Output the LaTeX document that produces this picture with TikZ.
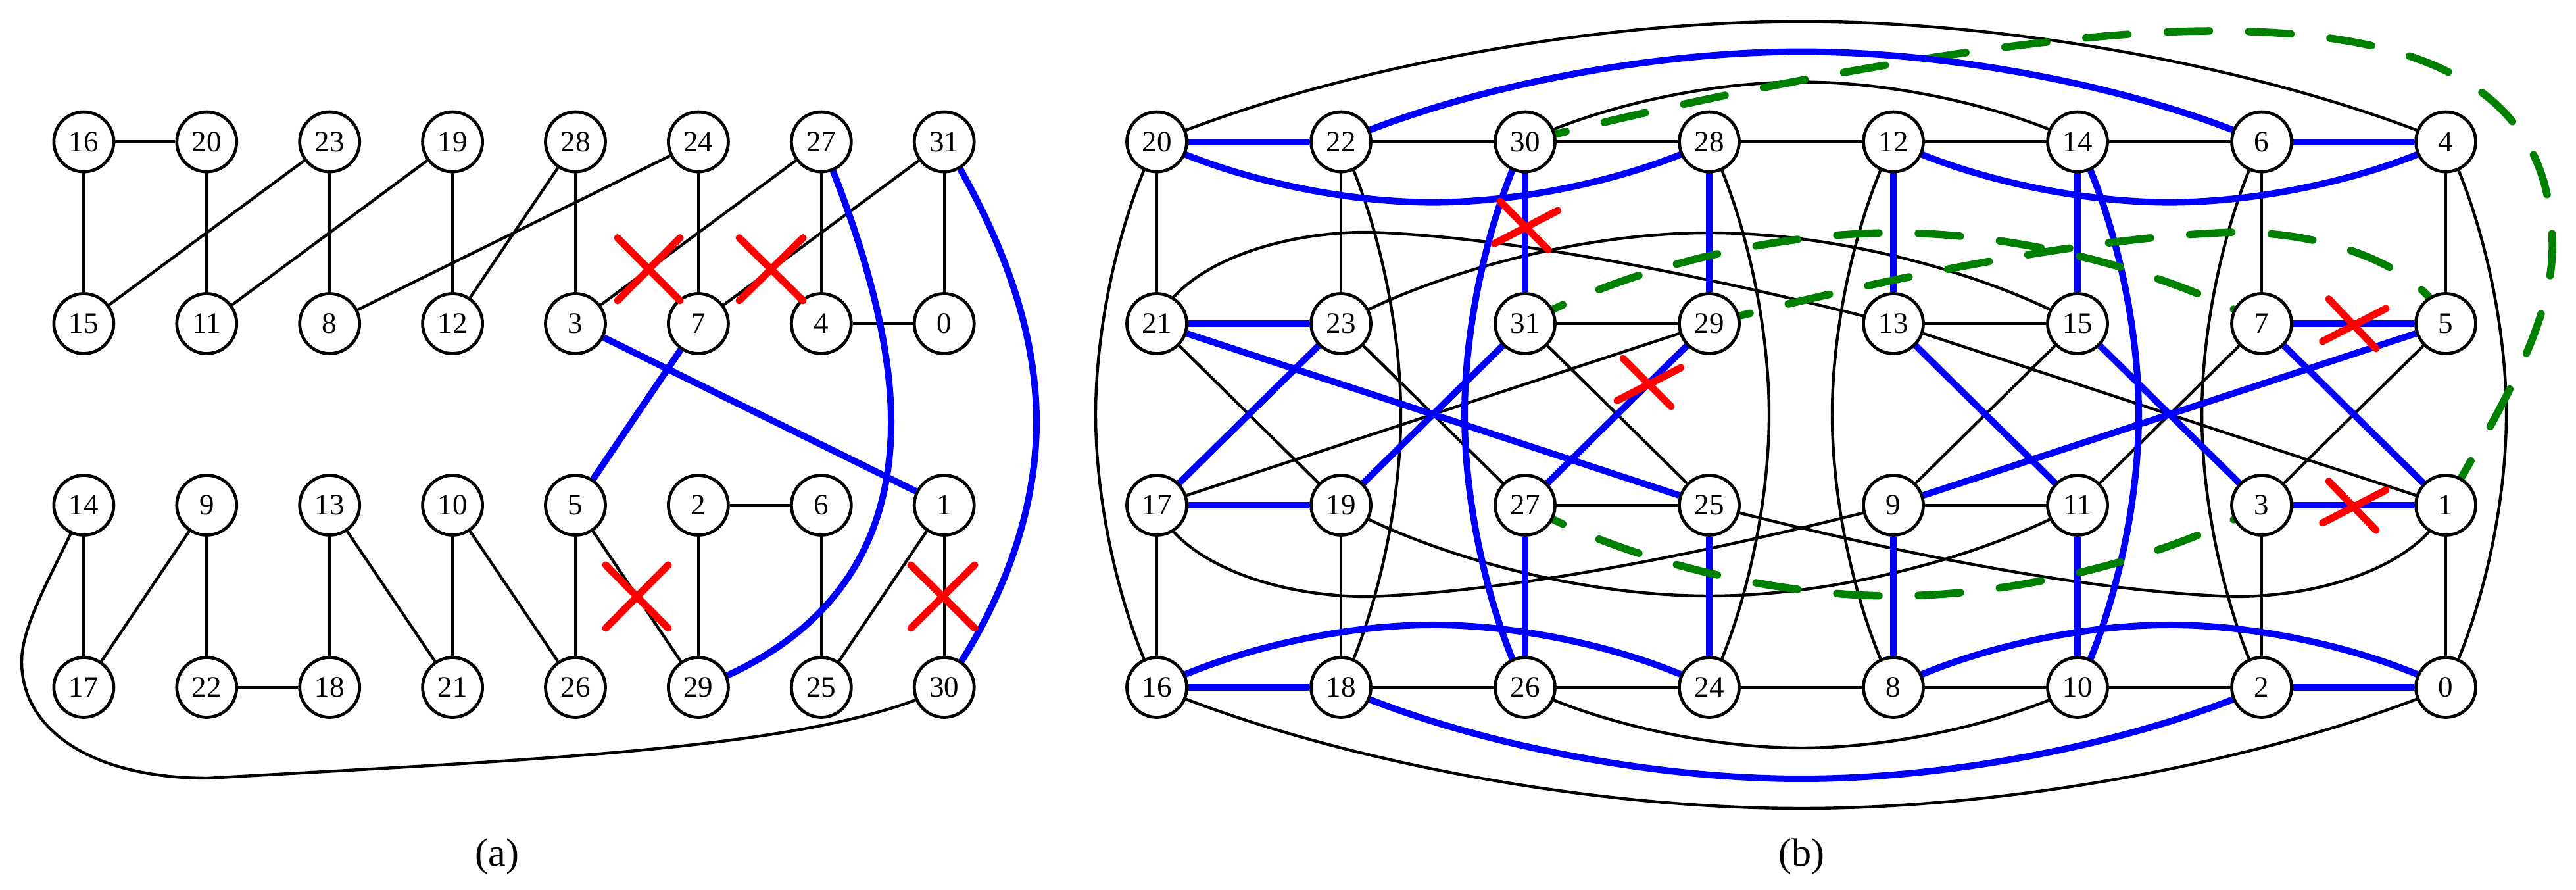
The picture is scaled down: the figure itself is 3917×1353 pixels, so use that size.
\documentclass[tikz,border=0pt]{standalone}
\usepackage{fontspec}
\setmainfont{Liberation Serif}
\usetikzlibrary{calc,backgrounds}
\definecolor{dgreen}{RGB}{0,128,0}
\tikzset{
  vx/.style={circle,draw=black,fill=white,line width=0.95pt,minimum size=18.2pt,inner sep=0pt,font=\fontsize{9}{11}\selectfont},
  blk/.style={draw=black,line width=0.88pt},
  blu/.style={draw=blue,line width=2pt},
  grn/.style={draw=dgreen,line width=2.3pt,line cap=round,dash pattern=on 12.8pt off 12pt},
  redx/.style={draw=red,line width=2.2pt,line cap=round},
  capt/.style={font=\fontsize{12}{14}\selectfont}
}
\newcommand\myharc[5]{\draw[#1] (#2.center) .. controls +({.255*#4},{.57*#5}) and +({-.346*#4},0) .. ($(#2.center)!.5!(#3.center)+(0,#5)$) .. controls +({.346*#4},0) and +({-.255*#4},{.57*#5}) .. (#3.center);}
\newcommand\myvarc[5]{\draw[#1] (#2.center) .. controls +({.57*#5},{.255*#4}) and +(0,{-.346*#4}) .. ($(#2.center)!.5!(#3.center)+(#5,0)$) .. controls +(0,{.346*#4}) and +({.57*#5},{-.255*#4}) .. (#3.center);}
\begin{document}
\begin{tikzpicture}[x=0.2pt,y=-0.2pt]
\useasboundingbox (0,0) rectangle (3917,1353);
% panel (a) nodes
\foreach \lab [count=\i from 0] in {16,20,23,19,28,24,27,31}{\node[vx] (a\lab) at ({127.4+186.9*\i},215.6) {\lab};}
\foreach \lab [count=\i from 0] in {15,11,8,12,3,7,4,0}{\node[vx] (a\lab) at ({127.4+186.9*\i},492) {\lab};}
\foreach \lab [count=\i from 0] in {14,9,13,10,5,2,6,1}{\node[vx] (a\lab) at ({127.4+186.9*\i},768) {\lab};}
\foreach \lab [count=\i from 0] in {17,22,18,21,26,29,25,30}{\node[vx] (a\lab) at ({127.4+186.9*\i},1045) {\lab};}
% panel (b) nodes
\foreach \lab [count=\i from 0] in {20,22,30,28,12,14,6,4}{\node[vx] (b\lab) at ({1759+280*\i},215.6) {\lab};}
\foreach \lab [count=\i from 0] in {21,23,31,29,13,15,7,5}{\node[vx] (b\lab) at ({1759+280*\i},492) {\lab};}
\foreach \lab [count=\i from 0] in {17,19,27,25,9,11,3,1}{\node[vx] (b\lab) at ({1759+280*\i},768) {\lab};}
\foreach \lab [count=\i from 0] in {16,18,26,24,8,10,2,0}{\node[vx] (b\lab) at ({1759+280*\i},1045) {\lab};}
\node[capt] (capa) at (756,1302) {(a)};
\node[capt] (capb) at (2739,1302) {(b)};
\begin{scope}[on background layer]
% (a) black
\foreach \u/\v in {16/20,16/15,20/11,23/15,23/8,19/11,19/12,28/12,28/3,24/8,24/7,27/3,27/4,31/7,31/0,4/0,14/17,9/17,9/22,22/18,13/18,13/21,10/21,10/26,5/26,5/29,2/6,2/29,6/25,1/25,1/30}
  {\draw[blk] (a\u) -- (a\v);}
\draw[blk] (a14.center) .. controls (87,861) and (33,945) .. (33,1006) .. controls (33,1110) and (140,1183) .. (316,1183) .. controls (800,1155) and (1250,1140) .. (a30.center);
% (a) blue
\foreach \u/\v in {3/1,7/5}{\draw[blu] (a\u) -- (a\v);}
\draw[blu] (a27.center) .. controls (1315,375) and (1355,520) .. (1355,642) .. controls (1355,800) and (1290,960) .. (a29.center);
\draw[blu] (a31.center) .. controls (1530,370) and (1576,510) .. (1576,642) .. controls (1576,770) and (1530,910) .. (a30.center);
% (b) black straight
\foreach \u/\v in {22/30,30/28,28/12,12/14,14/6,31/29,13/15,27/25,9/11,18/26,26/24,24/8,8/10,10/2,20/21,22/23,6/7,4/5,17/16,19/18,3/2,1/0,21/19,23/27,31/25,29/17,13/1,15/9,7/11,5/3}
  {\draw[blk] (b\u) -- (b\v);}
% (b) black curves
\myharc{blk}{b20}{b4}{980}{-183}
\myharc{blk}{b30}{b14}{420}{-91}
\myharc{blk}{b26}{b10}{420}{92}
\myharc{blk}{b16}{b0}{980}{184}
\myvarc{blk}{b20}{b16}{415}{-93}
\myvarc{blk}{b22}{b18}{415}{91}
\myvarc{blk}{b28}{b24}{415}{91}
\myvarc{blk}{b12}{b8}{415}{-93}
\myvarc{blk}{b6}{b2}{415}{-91}
\myvarc{blk}{b4}{b0}{415}{92}
\draw[blk] (b21.center) .. controls (1790,410) and (1930,353) .. (2080,353) .. controls (2300,360) and (2600,420) .. (b13.center);
\myharc{blk}{b23}{b15}{560}{-138}
\draw[blk] (b17.center) .. controls (1790,850) and (1930,907) .. (2080,907) .. controls (2300,900) and (2600,840) .. (b9.center);
\myharc{blk}{b19}{b11}{560}{138}
\draw[blk] (b1.center) .. controls (3688,850) and (3548,907) .. (3398,907) .. controls (3178,900) and (2878,840) .. (b25.center);
% big green under blue
\draw[grn] (b30.center) .. controls (2650,130) and (3100,47) .. (3364,47) .. controls (3680,47) and (3881,130) .. (3881,375) .. controls (3881,500) and (3790,640) .. (b1.center);
% (b) blue straight
\foreach \u/\v in {20/22,6/4,21/23,7/5,17/19,3/1,16/18,2/0,30/31,28/29,12/13,14/15,27/26,25/24,9/8,11/10,23/17,21/25,31/19,29/27,13/11,15/3,7/1,5/9}
  {\draw[blu] (b\u) -- (b\v);}
% (b) blue curves
\myharc{blu}{b22}{b6}{700}{-137}
\myharc{blu}{b20}{b28}{420}{92}
\myharc{blu}{b12}{b4}{420}{92}
\myharc{blu}{b16}{b24}{420}{-95}
\myharc{blu}{b8}{b0}{420}{-95}
\myharc{blu}{b18}{b2}{700}{139}
\myvarc{blu}{b30}{b26}{415}{-92}
\myvarc{blu}{b14}{b10}{415}{93}
% (b) green
\myharc{grn}{b31}{b7}{560}{-138}
\draw[grn] (b29.center) .. controls (2878,420) and (3178,360) .. (3398,353) .. controls (3548,353) and (3688,410) .. (b5.center);
\myharc{grn}{b27}{b3}{560}{138}
\end{scope}
% red crosses (a)
\draw[redx] (939,361.6) -- (1034,457) (939,457) -- (1034,361.6);
\draw[redx] (1124,361.6) -- (1221,457) (1124,457) -- (1221,361.6);
\draw[redx] (921,859) -- (1016,955) (921,955) -- (1016,859);
\draw[redx] (1385,859) -- (1482,955) (1385,955) -- (1482,859);
% red crosses (b)
\draw[redx] (2281,306) -- (2354,379.5) (2272,370.5) -- (2369,320);
\draw[redx] (2468,545) -- (2541,618) (2459,609) -- (2556,559);
\draw[redx] (3541,454.5) -- (3613,530) (3531.5,519) -- (3628,469);
\draw[redx] (3541,731.6) -- (3613,806) (3531.5,795) -- (3628,745);
\end{tikzpicture}
\end{document}
